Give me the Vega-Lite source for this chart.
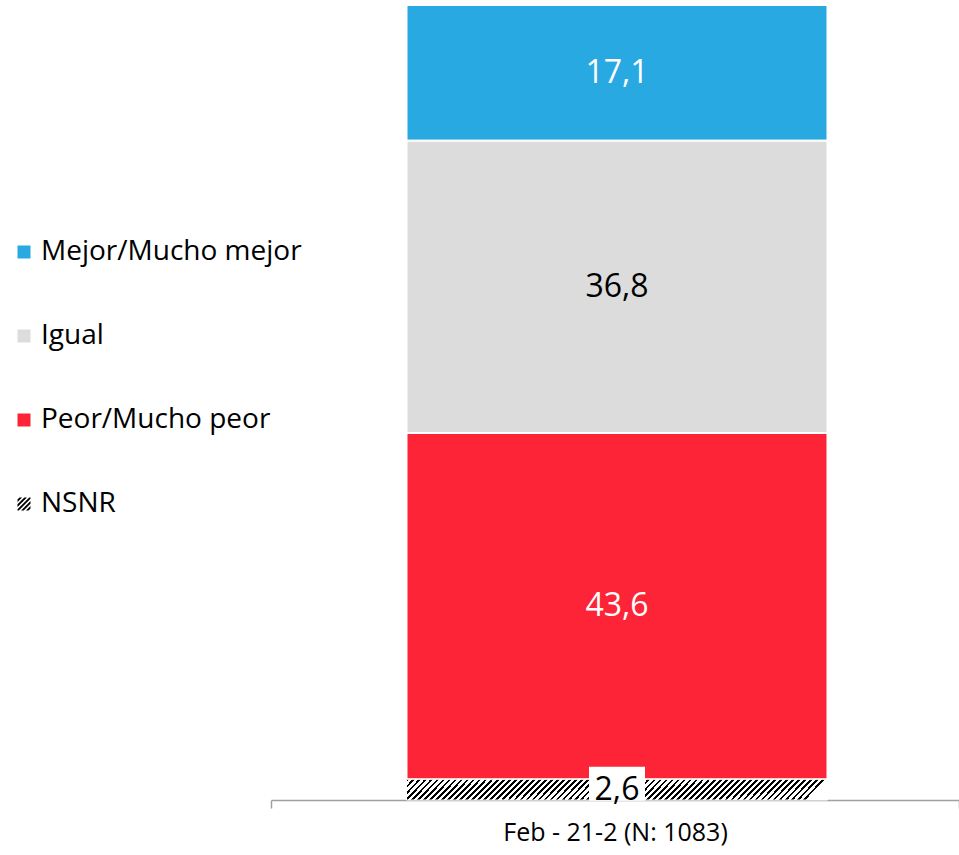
{
  "$schema": "https://vega.github.io/schema/vega-lite/v6.json",
  "width": 688,
  "height": 795,
  "autosize": {"type": "none"},
  "padding": {"left": 271, "top": 5, "right": 0, "bottom": 55},
  "background": "white",
  "config": {
    "view": {"stroke": null},
    "font": "Open Sans",
    "locale": {"number": {"decimal": ",", "thousands": ".", "grouping": [3], "currency": ["", " €"]}},
    "legend": {
      "orient": "none",
      "legendX": -261,
      "legendY": 233,
      "symbolSize": 169,
      "symbolStrokeWidth": 0,
      "labelFont": "Open Sans",
      "labelFontSize": 28,
      "labelColor": "#000000",
      "labelOffset": 3,
      "rowPadding": 56,
      "padding": 0,
      "labelLimit": 400
    }
  },
  "data": {
    "values": [
      {"periodo": "Feb - 21-2 (N: 1083)", "cat": "Mejor/Mucho mejor", "value": 17.1},
      {"periodo": "Feb - 21-2 (N: 1083)", "cat": "Igual", "value": 36.8},
      {"periodo": "Feb - 21-2 (N: 1083)", "cat": "Peor/Mucho peor", "value": 43.6},
      {"periodo": "Feb - 21-2 (N: 1083)", "cat": "NSNR", "value": 2.6}
    ]
  },
  "transform": [
    {"calculate": "indexof(['NSNR','Peor/Mucho peor','Igual','Mejor/Mucho mejor'], datum.cat)", "as": "orden"},
    {"stack": "value", "groupby": ["periodo"], "sort": [{"field": "orden", "order": "ascending"}], "as": ["y0", "y1"]},
    {"calculate": "(datum.y0 + datum.y1) / 2", "as": "ymid"}
  ],
  "encoding": {
    "x": {
      "field": "periodo",
      "type": "nominal",
      "scale": {"paddingInner": 0, "paddingOuter": 0},
      "axis": {
        "title": null,
        "labelAngle": 0,
        "labelFont": "Open Sans",
        "labelFontSize": 25,
        "labelColor": "#000000",
        "labelLimit": 500,
        "domainColor": "#a0a0a0",
        "domainWidth": 1.5,
        "tickColor": "#a0a0a0",
        "tickWidth": 1.5,
        "tickSize": 8,
        "tickBand": "extent",
        "labelPadding": 12
      }
    }
  },
  "layer": [
    {
      "mark": {"type": "point", "filled": true, "size": 169, "opacity": 1, "xOffset": 2},
      "encoding": {
        "y": {"field": "ymid", "type": "quantitative", "scale": {"domain": [0, 100.1], "nice": false}, "axis": null},
        "color": {
          "field": "cat",
          "type": "nominal",
          "scale": {
            "domain": ["Mejor/Mucho mejor", "Igual", "Peor/Mucho peor", "NSNR"],
            "range": ["#29A9E1", "#DCDCDC", "#FC2436", "#000000"]
          },
          "legend": {"title": null}
        },
        "shape": {
          "field": "cat",
          "type": "nominal",
          "scale": {
            "domain": ["Mejor/Mucho mejor", "Igual", "Peor/Mucho peor", "NSNR"],
            "range": ["square", "square", "square", "M-1,-0.7L-0.7,-1L-0.3,-1L-1,-0.3ZM-1,0.05L0.05,-1L0.45,-1L-1,0.45ZM-1,0.8L0.8,-1L1,-1L1,-0.8L-0.8,1L-1,1ZM-0.45,1L1,-0.45L1,-0.05L-0.05,1ZM0.3,1L1,0.3L1,0.7L0.7,1Z"]
          },
          "legend": {"title": null}
        }
      }
    },
    {
      "transform": [{"filter": "datum.cat !== 'NSNR'"}],
      "mark": {"type": "bar", "width": 421, "stroke": "white", "strokeWidth": 2, "xOffset": 2},
      "encoding": {
        "y": {"field": "y0", "type": "quantitative", "scale": {"domain": [0, 100.1], "nice": false}, "axis": null},
        "y2": {"field": "y1"},
        "color": {"field": "cat", "type": "nominal", "legend": {"title": null}}
      }
    },
    {
      "transform": [{"filter": "datum.cat === 'NSNR'"}],
      "mark": {
        "type": "bar", "width": 421, "stroke": "white", "strokeWidth": 1, "xOffset": 2,
        "fill": {
          "gradient": "linear", "x1": 0, "y1": 0, "x2": 1, "y2": 0.0475,
          "stops": [
            {"offset": 0, "color": "#000"}, {"offset": 0.0064, "color": "#000"}, {"offset": 0.0064, "color": "#fff"}, {"offset": 0.0143, "color": "#fff"},
            {"offset": 0.0143, "color": "#000"}, {"offset": 0.0207, "color": "#000"}, {"offset": 0.0207, "color": "#fff"}, {"offset": 0.0286, "color": "#fff"},
            {"offset": 0.0286, "color": "#000"}, {"offset": 0.035, "color": "#000"}, {"offset": 0.035, "color": "#fff"}, {"offset": 0.0429, "color": "#fff"},
            {"offset": 0.0429, "color": "#000"}, {"offset": 0.0493, "color": "#000"}, {"offset": 0.0493, "color": "#fff"}, {"offset": 0.0571, "color": "#fff"},
            {"offset": 0.0571, "color": "#000"}, {"offset": 0.0635, "color": "#000"}, {"offset": 0.0635, "color": "#fff"}, {"offset": 0.0714, "color": "#fff"},
            {"offset": 0.0714, "color": "#000"}, {"offset": 0.0778, "color": "#000"}, {"offset": 0.0778, "color": "#fff"}, {"offset": 0.0857, "color": "#fff"},
            {"offset": 0.0857, "color": "#000"}, {"offset": 0.0921, "color": "#000"}, {"offset": 0.0921, "color": "#fff"}, {"offset": 0.1, "color": "#fff"},
            {"offset": 0.1, "color": "#000"}, {"offset": 0.1064, "color": "#000"}, {"offset": 0.1064, "color": "#fff"}, {"offset": 0.1143, "color": "#fff"},
            {"offset": 0.1143, "color": "#000"}, {"offset": 0.1207, "color": "#000"}, {"offset": 0.1207, "color": "#fff"}, {"offset": 0.1286, "color": "#fff"},
            {"offset": 0.1286, "color": "#000"}, {"offset": 0.135, "color": "#000"}, {"offset": 0.135, "color": "#fff"}, {"offset": 0.1429, "color": "#fff"},
            {"offset": 0.1429, "color": "#000"}, {"offset": 0.1493, "color": "#000"}, {"offset": 0.1493, "color": "#fff"}, {"offset": 0.1571, "color": "#fff"},
            {"offset": 0.1571, "color": "#000"}, {"offset": 0.1635, "color": "#000"}, {"offset": 0.1635, "color": "#fff"}, {"offset": 0.1714, "color": "#fff"},
            {"offset": 0.1714, "color": "#000"}, {"offset": 0.1778, "color": "#000"}, {"offset": 0.1778, "color": "#fff"}, {"offset": 0.1857, "color": "#fff"},
            {"offset": 0.1857, "color": "#000"}, {"offset": 0.1921, "color": "#000"}, {"offset": 0.1921, "color": "#fff"}, {"offset": 0.2, "color": "#fff"},
            {"offset": 0.2, "color": "#000"}, {"offset": 0.2064, "color": "#000"}, {"offset": 0.2064, "color": "#fff"}, {"offset": 0.2143, "color": "#fff"},
            {"offset": 0.2143, "color": "#000"}, {"offset": 0.2207, "color": "#000"}, {"offset": 0.2207, "color": "#fff"}, {"offset": 0.2286, "color": "#fff"},
            {"offset": 0.2286, "color": "#000"}, {"offset": 0.235, "color": "#000"}, {"offset": 0.235, "color": "#fff"}, {"offset": 0.2429, "color": "#fff"},
            {"offset": 0.2429, "color": "#000"}, {"offset": 0.2493, "color": "#000"}, {"offset": 0.2493, "color": "#fff"}, {"offset": 0.2571, "color": "#fff"},
            {"offset": 0.2571, "color": "#000"}, {"offset": 0.2635, "color": "#000"}, {"offset": 0.2635, "color": "#fff"}, {"offset": 0.2714, "color": "#fff"},
            {"offset": 0.2714, "color": "#000"}, {"offset": 0.2778, "color": "#000"}, {"offset": 0.2778, "color": "#fff"}, {"offset": 0.2857, "color": "#fff"},
            {"offset": 0.2857, "color": "#000"}, {"offset": 0.2921, "color": "#000"}, {"offset": 0.2921, "color": "#fff"}, {"offset": 0.3, "color": "#fff"},
            {"offset": 0.3, "color": "#000"}, {"offset": 0.3064, "color": "#000"}, {"offset": 0.3064, "color": "#fff"}, {"offset": 0.3143, "color": "#fff"},
            {"offset": 0.3143, "color": "#000"}, {"offset": 0.3207, "color": "#000"}, {"offset": 0.3207, "color": "#fff"}, {"offset": 0.3286, "color": "#fff"},
            {"offset": 0.3286, "color": "#000"}, {"offset": 0.335, "color": "#000"}, {"offset": 0.335, "color": "#fff"}, {"offset": 0.3429, "color": "#fff"},
            {"offset": 0.3429, "color": "#000"}, {"offset": 0.3493, "color": "#000"}, {"offset": 0.3493, "color": "#fff"}, {"offset": 0.3571, "color": "#fff"},
            {"offset": 0.3571, "color": "#000"}, {"offset": 0.3635, "color": "#000"}, {"offset": 0.3635, "color": "#fff"}, {"offset": 0.3714, "color": "#fff"},
            {"offset": 0.3714, "color": "#000"}, {"offset": 0.3778, "color": "#000"}, {"offset": 0.3778, "color": "#fff"}, {"offset": 0.3857, "color": "#fff"},
            {"offset": 0.3857, "color": "#000"}, {"offset": 0.3921, "color": "#000"}, {"offset": 0.3921, "color": "#fff"}, {"offset": 0.4, "color": "#fff"},
            {"offset": 0.4, "color": "#000"}, {"offset": 0.4064, "color": "#000"}, {"offset": 0.4064, "color": "#fff"}, {"offset": 0.4143, "color": "#fff"},
            {"offset": 0.4143, "color": "#000"}, {"offset": 0.4207, "color": "#000"}, {"offset": 0.4207, "color": "#fff"}, {"offset": 0.4286, "color": "#fff"},
            {"offset": 0.4286, "color": "#000"}, {"offset": 0.435, "color": "#000"}, {"offset": 0.435, "color": "#fff"}, {"offset": 0.4429, "color": "#fff"},
            {"offset": 0.4429, "color": "#000"}, {"offset": 0.4493, "color": "#000"}, {"offset": 0.4493, "color": "#fff"}, {"offset": 0.4571, "color": "#fff"},
            {"offset": 0.4571, "color": "#000"}, {"offset": 0.4635, "color": "#000"}, {"offset": 0.4635, "color": "#fff"}, {"offset": 0.4714, "color": "#fff"},
            {"offset": 0.4714, "color": "#000"}, {"offset": 0.4778, "color": "#000"}, {"offset": 0.4778, "color": "#fff"}, {"offset": 0.4857, "color": "#fff"},
            {"offset": 0.4857, "color": "#000"}, {"offset": 0.4921, "color": "#000"}, {"offset": 0.4921, "color": "#fff"}, {"offset": 0.5, "color": "#fff"},
            {"offset": 0.5, "color": "#000"}, {"offset": 0.5064, "color": "#000"}, {"offset": 0.5064, "color": "#fff"}, {"offset": 0.5143, "color": "#fff"},
            {"offset": 0.5143, "color": "#000"}, {"offset": 0.5207, "color": "#000"}, {"offset": 0.5207, "color": "#fff"}, {"offset": 0.5286, "color": "#fff"},
            {"offset": 0.5286, "color": "#000"}, {"offset": 0.535, "color": "#000"}, {"offset": 0.535, "color": "#fff"}, {"offset": 0.5429, "color": "#fff"},
            {"offset": 0.5429, "color": "#000"}, {"offset": 0.5493, "color": "#000"}, {"offset": 0.5493, "color": "#fff"}, {"offset": 0.5571, "color": "#fff"},
            {"offset": 0.5571, "color": "#000"}, {"offset": 0.5635, "color": "#000"}, {"offset": 0.5635, "color": "#fff"}, {"offset": 0.5714, "color": "#fff"},
            {"offset": 0.5714, "color": "#000"}, {"offset": 0.5778, "color": "#000"}, {"offset": 0.5778, "color": "#fff"}, {"offset": 0.5857, "color": "#fff"},
            {"offset": 0.5857, "color": "#000"}, {"offset": 0.5921, "color": "#000"}, {"offset": 0.5921, "color": "#fff"}, {"offset": 0.6, "color": "#fff"},
            {"offset": 0.6, "color": "#000"}, {"offset": 0.6064, "color": "#000"}, {"offset": 0.6064, "color": "#fff"}, {"offset": 0.6143, "color": "#fff"},
            {"offset": 0.6143, "color": "#000"}, {"offset": 0.6207, "color": "#000"}, {"offset": 0.6207, "color": "#fff"}, {"offset": 0.6286, "color": "#fff"},
            {"offset": 0.6286, "color": "#000"}, {"offset": 0.635, "color": "#000"}, {"offset": 0.635, "color": "#fff"}, {"offset": 0.6429, "color": "#fff"},
            {"offset": 0.6429, "color": "#000"}, {"offset": 0.6493, "color": "#000"}, {"offset": 0.6493, "color": "#fff"}, {"offset": 0.6571, "color": "#fff"},
            {"offset": 0.6571, "color": "#000"}, {"offset": 0.6635, "color": "#000"}, {"offset": 0.6635, "color": "#fff"}, {"offset": 0.6714, "color": "#fff"},
            {"offset": 0.6714, "color": "#000"}, {"offset": 0.6778, "color": "#000"}, {"offset": 0.6778, "color": "#fff"}, {"offset": 0.6857, "color": "#fff"},
            {"offset": 0.6857, "color": "#000"}, {"offset": 0.6921, "color": "#000"}, {"offset": 0.6921, "color": "#fff"}, {"offset": 0.7, "color": "#fff"},
            {"offset": 0.7, "color": "#000"}, {"offset": 0.7064, "color": "#000"}, {"offset": 0.7064, "color": "#fff"}, {"offset": 0.7143, "color": "#fff"},
            {"offset": 0.7143, "color": "#000"}, {"offset": 0.7207, "color": "#000"}, {"offset": 0.7207, "color": "#fff"}, {"offset": 0.7286, "color": "#fff"},
            {"offset": 0.7286, "color": "#000"}, {"offset": 0.735, "color": "#000"}, {"offset": 0.735, "color": "#fff"}, {"offset": 0.7429, "color": "#fff"},
            {"offset": 0.7429, "color": "#000"}, {"offset": 0.7493, "color": "#000"}, {"offset": 0.7493, "color": "#fff"}, {"offset": 0.7571, "color": "#fff"},
            {"offset": 0.7571, "color": "#000"}, {"offset": 0.7635, "color": "#000"}, {"offset": 0.7635, "color": "#fff"}, {"offset": 0.7714, "color": "#fff"},
            {"offset": 0.7714, "color": "#000"}, {"offset": 0.7778, "color": "#000"}, {"offset": 0.7778, "color": "#fff"}, {"offset": 0.7857, "color": "#fff"},
            {"offset": 0.7857, "color": "#000"}, {"offset": 0.7921, "color": "#000"}, {"offset": 0.7921, "color": "#fff"}, {"offset": 0.8, "color": "#fff"},
            {"offset": 0.8, "color": "#000"}, {"offset": 0.8064, "color": "#000"}, {"offset": 0.8064, "color": "#fff"}, {"offset": 0.8143, "color": "#fff"},
            {"offset": 0.8143, "color": "#000"}, {"offset": 0.8207, "color": "#000"}, {"offset": 0.8207, "color": "#fff"}, {"offset": 0.8286, "color": "#fff"},
            {"offset": 0.8286, "color": "#000"}, {"offset": 0.835, "color": "#000"}, {"offset": 0.835, "color": "#fff"}, {"offset": 0.8429, "color": "#fff"},
            {"offset": 0.8429, "color": "#000"}, {"offset": 0.8493, "color": "#000"}, {"offset": 0.8493, "color": "#fff"}, {"offset": 0.8571, "color": "#fff"},
            {"offset": 0.8571, "color": "#000"}, {"offset": 0.8635, "color": "#000"}, {"offset": 0.8635, "color": "#fff"}, {"offset": 0.8714, "color": "#fff"},
            {"offset": 0.8714, "color": "#000"}, {"offset": 0.8778, "color": "#000"}, {"offset": 0.8778, "color": "#fff"}, {"offset": 0.8857, "color": "#fff"},
            {"offset": 0.8857, "color": "#000"}, {"offset": 0.8921, "color": "#000"}, {"offset": 0.8921, "color": "#fff"}, {"offset": 0.9, "color": "#fff"},
            {"offset": 0.9, "color": "#000"}, {"offset": 0.9064, "color": "#000"}, {"offset": 0.9064, "color": "#fff"}, {"offset": 0.9143, "color": "#fff"},
            {"offset": 0.9143, "color": "#000"}, {"offset": 0.9207, "color": "#000"}, {"offset": 0.9207, "color": "#fff"}, {"offset": 0.9286, "color": "#fff"},
            {"offset": 0.9286, "color": "#000"}, {"offset": 0.935, "color": "#000"}, {"offset": 0.935, "color": "#fff"}, {"offset": 0.9429, "color": "#fff"},
            {"offset": 0.9429, "color": "#000"}, {"offset": 0.9493, "color": "#000"}, {"offset": 0.9493, "color": "#fff"}, {"offset": 0.9571, "color": "#fff"},
            {"offset": 0.9571, "color": "#000"}, {"offset": 0.9635, "color": "#000"}, {"offset": 0.9635, "color": "#fff"}, {"offset": 0.9714, "color": "#fff"},
            {"offset": 0.9714, "color": "#000"}, {"offset": 0.9778, "color": "#000"}, {"offset": 0.9778, "color": "#fff"}, {"offset": 0.9857, "color": "#fff"},
            {"offset": 0.9857, "color": "#000"}, {"offset": 0.9921, "color": "#000"}, {"offset": 0.9921, "color": "#fff"}, {"offset": 1, "color": "#fff"}
          ]
        }
      },
      "encoding": {
        "y": {"field": "y0", "type": "quantitative"},
        "y2": {"field": "y1"}
      }
    },
    {
      "transform": [{"filter": "datum.cat === 'NSNR'"}],
      "mark": {"type": "point", "shape": "M-1,-0.607H1V0.607H-1Z", "size": 3136, "filled": true, "color": "white", "opacity": 1, "yOffset": -6, "xOffset": 2},
      "encoding": {
        "y": {"field": "ymid", "type": "quantitative"}
      }
    },
    {
      "mark": {"type": "text", "font": "Open Sans", "fontSize": 32, "baseline": "middle", "align": "center", "xOffset": 2},
      "encoding": {
        "y": {"field": "ymid", "type": "quantitative"},
        "text": {"field": "value", "type": "quantitative", "format": ".1f"},
        "color": {"condition": {"test": "datum.cat === 'Igual' || datum.cat === 'NSNR'", "value": "#000000"}, "value": "#ffffff"}
      }
    }
  ]
}
